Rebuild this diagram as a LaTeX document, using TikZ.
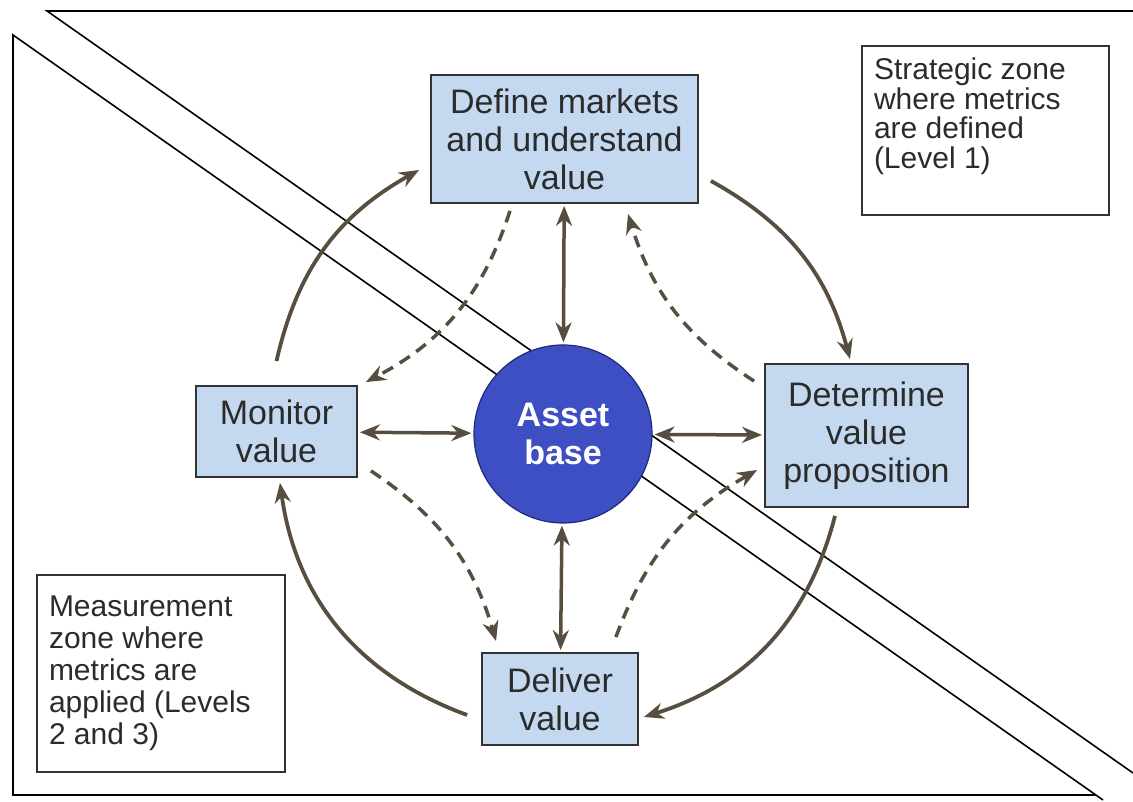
\documentclass[tikz,border=0pt]{standalone}
\usepackage{fontspec}
\setmainfont{Liberation Sans}
\usetikzlibrary{arrows.meta}

\definecolor{boxblue}{HTML}{C4D9F0}
\definecolor{assetblue}{HTML}{3D4FC2}
\definecolor{assetrim}{HTML}{1F2A7A}
\definecolor{arrowgrey}{HTML}{574E3F}
\definecolor{textgrey}{HTML}{2B2B2B}

\begin{document}
\begin{tikzpicture}[x=1pt,y=1pt]
        \tikzstyle{stagebox} = [draw=black!80,line width=1.8pt,fill=boxblue,text=textgrey,align=center,inner sep=0pt,font=\fontsize{34}{38}\selectfont]
        \tikzstyle{zonebox} = [draw=black!80,line width=1.3pt,inner sep=12pt,text=textgrey]
        \tikzstyle{cyclearrow} = [arrowgrey,line width=3.8pt,-{Stealth[length=20pt,width=16pt]}]
        \tikzstyle{feedback} = [arrowgrey,line width=3.5pt,dash pattern=on 12pt off 8pt,-{Stealth[length=20pt,width=16pt]}]
        \tikzstyle{twoway} = [arrowgrey,line width=3.5pt,shorten <=2pt,shorten >=2pt,{Stealth[length=20pt,width=16pt]}-{Stealth[length=20pt,width=16pt]}]

        \useasboundingbox (0,0) rectangle (1133,802);

        % zone borders
        \draw[line width=1.6pt] (1133,791) -- (47,791) -- (1133,29);
        \draw[line width=1.6pt] (1103,2) -- (13,767) -- (13,7) -- (1096,7);

        \node[zonebox] (strat) at (985.5,671.5){\parbox[c][145pt][t]{223pt}{\fontsize{30}{29.5}\selectfont\raggedright Strategic zone\\where metrics\\are defined\\(Level 1)}};
        \node[zonebox] (meas) at (161,128.5){\parbox[c][173pt][c]{224pt}{\fontsize{30}{32}\selectfont\raggedright Measurement\\zone where\\metrics are\\applied (Levels\\2 and 3)}};

        \node[stagebox,minimum width=267pt,minimum height=128pt] (def) at (564.5,663){Define markets\\and understand\\value};
        \node[stagebox,minimum width=161pt,minimum height=91pt] (mon) at (276.5,370.5){Monitor\\value};
        \node[stagebox,minimum width=203pt,minimum height=143pt] (det) at (866.5,366.5){Determine\\value\\proposition};
        \node[stagebox,minimum width=156pt,minimum height=92pt] (del) at (560,103){Deliver\\value};
        \node[circle,draw=assetrim,line width=1.2pt,fill=assetblue,text=white,align=center,minimum size=178pt,font=\bfseries\fontsize{34}{38}\selectfont] (asset) at (563,368){Asset\\base};

        % outer cycle
        \draw[cyclearrow] ([yshift=24pt]mon.north) to[bend left=24] ([xshift=-11pt,yshift=-31pt]def.west);
        \draw[cyclearrow] ([xshift=12pt,yshift=23pt]def.south east) to[bend left=23] ([xshift=-16.5pt,yshift=4pt]det.north);
        \draw[cyclearrow] ([xshift=-31.5pt,yshift=-8pt]det.south) to[bend left=29] ([xshift=5pt,yshift=-18pt]del.east);
        \draw[cyclearrow] ([xshift=-14pt,yshift=-16pt]del.west) to[bend left=31] ([xshift=3.5pt,yshift=-5pt]mon.south);

        % inner cycle
        \draw[feedback] ([xshift=-54.5pt,yshift=-7pt]def.south) to[bend left=22] ([xshift=8pt,yshift=3pt]mon.north east);
        \draw[feedback] ([xshift=13pt,yshift=7pt]mon.south east) to[bend left=20] ([xshift=15pt,yshift=11pt]del.north west);
        \draw[feedback] ([xshift=-23pt,yshift=15pt]del.north east) to[bend left=20] ([xshift=-7pt,yshift=-34.5pt]det.west);
        \draw[feedback] ([xshift=-10pt,yshift=-18pt]det.north west) to[bend left=20] ([xshift=63.5pt,yshift=-10pt]def.south);

        \draw[twoway] (def) -- (asset);
        \draw[twoway] (mon) -- (asset);
        \draw[twoway] (asset) -- (det);
        \draw[twoway] (asset) -- (del);
\end{tikzpicture}
\end{document}
